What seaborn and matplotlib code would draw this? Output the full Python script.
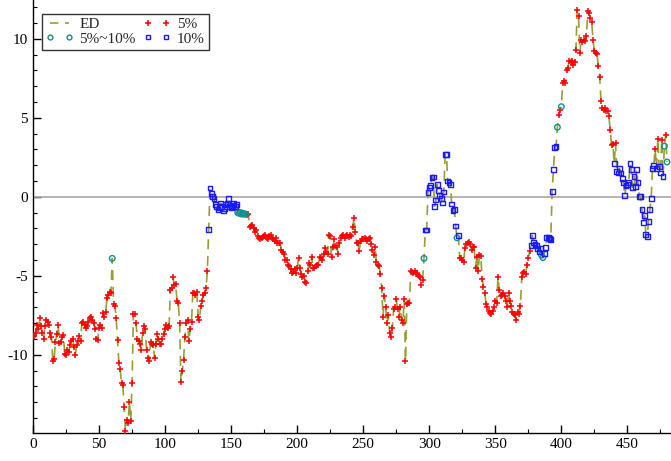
import numpy as np
import pandas as pd
import matplotlib
matplotlib.use("Agg")
import matplotlib.pyplot as plt
from matplotlib.lines import Line2D
from matplotlib.ticker import MultipleLocator
import seaborn as sns

# ED series, one value per step (x = 0 .. 480)
ed_values = [
    -8.9, -8.8, -8.6, -8.1, -8.4, -7.7, -8.2, -8.6, -9.0, -8.2,
    -7.8, -7.95, -8.1, -8.6, -8.85, -10.4, -10.25, -9.2, -8.7, -8.1,
    -9.25, -9.2, -8.9, -8.75, -9.95, -10.0, -9.7, -9.8, -9.4, -9.15,
    -9.0, -9.5, -10.0, -9.4, -9.1, -8.8, -9.1, -8.0, -7.9, -8.1,
    -8.3, -8.2, -7.9, -7.7, -7.6, -7.8, -8.0, -8.4, -9.0, -9.05,
    -8.3, -8.1, -8.3, -7.35, -7.6, -7.3, -6.4, -6.2, -6.0, -6.1,
    -3.9, -6.8, -6.9, -7.7, -9.05, -10.5, -10.9, -11.8, -11.9, -13.3,
    -14.8, -14.1, -14.3, -13.0, -14.2, -11.8, -7.4, -7.4, -8.0, -9.0,
    -9.1, -9.3, -9.7, -8.6, -8.2, -8.4, -9.7, -10.2, -10.4, -9.2,
    -9.3, -9.4, -10.2, -9.3, -8.7, -9.0, -9.3, -9.3, -9.0, -8.7,
    -8.4, -8.1, -8.3, -8.2, -5.9, -5.8, -5.1, -5.6, -5.5, -6.6,
    -6.7, -8.0, -11.75, -11.0, -10.3, -8.9, -8.0, -7.8, -9.15, -8.4,
    -7.9, -6.1, -6.1, -6.2, -6.0, -7.6, -7.8, -6.9, -6.6, -6.2,
    -6.1, -5.8, -4.7, -2.05, 0.55, 0.2, 0.0, -0.1, -0.5, -0.6,
    -0.8, -0.7, -0.4, -0.6, -0.9, -0.75, -0.5, -0.4, -0.1, -0.6,
    -0.7, -0.55, -0.45, -0.6, -0.5, -1.0, -1.05, -1.0, -1.1, -1.05,
    -1.1, -1.1, -1.15, -1.1, -1.9, -1.85, -1.8, -2.0, -2.2, -2.1,
    -2.5, -2.6, -2.65, -2.6, -2.55, -2.5, -2.45, -2.6, -2.65, -2.5,
    -2.4, -2.6, -2.7, -2.8, -2.6, -2.9, -2.9, -2.95, -3.35, -3.5,
    -3.6, -4.0, -4.0, -4.3, -4.4, -4.6, -4.8, -4.75, -4.6, -4.8,
    -4.5, -3.9, -4.5, -4.9, -5.1, -5.0, -5.4, -5.45, -4.7, -4.2,
    -4.3, -3.8, -4.5, -4.5, -4.4, -4.3, -4.3, -3.8, -3.9, -4.0,
    -3.6, -3.25, -3.5, -3.6, -2.4, -2.5, -3.8, -3.2, -2.7, -3.1,
    -3.2, -3.6, -2.9, -2.6, -2.5, -2.45, -2.6, -2.5, -2.4, -2.55,
    -2.4, -2.5, -1.9, -1.35, -2.2, -2.95, -2.95, -3.45, -2.8, -2.7,
    -2.65, -2.6, -2.7, -2.8, -2.7, -2.6, -3.0, -3.35, -3.7, -3.2,
    -4.15, -4.3, -4.4, -4.9, -5.8, -7.6, -6.3, -7.0, -8.0, -7.5,
    -8.6, -8.9, -8.3, -7.1, -7.0, -6.5, -7.1, -7.6, -7.0, -7.8,
    -8.0, -6.5, -10.4, -6.8, -6.7, -6.7, -4.7, -4.75, -4.8, -4.7,
    -4.9, -4.8, -5.0, -5.1, -5.6, -5.25, -3.9, -2.1, -2.1, 0.25,
    0.6, 0.7, 1.2, 1.25, -0.6, -0.2, 0.8, 0.4, 0.1, -0.1,
    -0.4, 0.3, 2.65, 2.65, 1.0, 0.9, 0.8, -0.46, -0.87, -0.8,
    -1.85, -2.6, -2.45, -3.9, -3.9, -4.0, -4.15, -3.25, -3.0, -2.9,
    -2.85, -3.0, -3.35, -3.15, -3.2, -4.5, -3.8, -4.7, -3.7, -3.75,
    -5.2, -5.7, -6.1, -6.8, -7.0, -7.2, -7.35, -7.4, -7.2, -7.0,
    -6.6, -6.7, -5.1, -5.9, -6.3, -6.2, -6.1, -6.3, -6.6, -7.0,
    -6.1, -6.6, -6.9, -7.3, -7.4, -7.5, -7.8, -7.3, -7.4, -6.9,
    -5.1, -4.8, -4.75, -4.9, -4.3, -3.9, -3.45, -3.1, -2.45, -2.9,
    -3.0, -3.1, -3.3, -3.5, -3.3, -3.7, -3.85, -3.6, -3.2, -2.6,
    -2.6, -2.65, -2.7, 0.35, 1.7, 3.1, 3.2, 4.4, 5.2, 5.5,
    5.7, 7.2, 7.35, 7.2, 8.05, 8.15, 8.6, 8.5, 8.6, 8.35,
    8.5, 9.3, 11.8, 11.45, 9.1, 9.95, 9.8, 9.9, 9.85, 10.2,
    11.75, 11.6, 11.3, 11.05, 9.9, 9.2, 9.1, 9.05, 8.25, 7.6,
    6.05, 5.6, 5.5, 5.6, 5.45, 5.4, 5.1, 4.2, 3.3, 3.35,
    2.1, 3.4, 1.6, 1.5, 1.8, 1.5, 1.15, 0.9, 0.06, 0.7,
    0.75, 0.9, 2.1, 1.7, 0.6, 1.3, 0.65, 1.7, 0.9, 0.0,
    0.0, -0.8, -1.65, -1.2, -2.4, -2.5, -1.55, -0.8, -0.1, 1.8,
    2.0, 3.0, 1.8, 3.65, 1.9, 1.5, 3.6, 1.3, 3.2, 3.9,
    2.2,
]

# indices of points in the "5%~10%" and "10%" groups (all others are "5%")
mid_idx = [60, 155, 156, 157, 158, 159, 160, 161, 296, 321, 385, 386, 397, 400, 478, 480]
high_idx = (list(range(133, 155)) + list(range(297, 321)) + [322]
            + list(range(377, 385)) + list(range(387, 397)) + [440]
            + list(range(442, 471)) + [472, 474, 475, 477])

cat_labels = ["5%", "5%~10%", "10%"]

x = np.arange(len(ed_values))
cat = np.array(["5%"] * len(ed_values), dtype=object)
cat[mid_idx] = "5%~10%"
cat[high_idx] = "10%"
df = pd.DataFrame({"x": x, "ED": ed_values, "cat": cat})

sns.set_theme(style="white")
plt.rcParams["font.family"] = ["Liberation Serif", "DejaVu Serif"]
plt.rcParams["axes.unicode_minus"] = False

fig = plt.figure(figsize=(6.71, 4.61), dpi=100)
ax = fig.add_axes([33 / 671, 28 / 461, 638 / 671, 433 / 461])

ax.axhline(0, color="#a8a8a8", lw=1.2, zorder=1)

line_color = "#9c9c32"
sns.lineplot(data=df, x="x", y="ED", ax=ax, color=line_color, lw=1.2,
             dashes=False, zorder=2, legend=False)
ax.lines[-1].set_dashes([6, 4])

d5 = df[df["cat"] == "5%"]
dmid = df[df["cat"] == "5%~10%"]
dhigh = df[df["cat"] == "10%"]
sns.scatterplot(data=d5, x="x", y="ED", ax=ax, marker="+", color="#ff0000",
                s=20, linewidth=1.1, zorder=3, legend=False)
sns.scatterplot(data=dmid, x="x", y="ED", ax=ax, marker="o", s=16,
                facecolors="none", edgecolors="#109090", linewidth=1.0,
                zorder=4, legend=False)
sns.scatterplot(data=dhigh, x="x", y="ED", ax=ax, marker="s", s=12,
                facecolors="none", edgecolors="#1a1aff", linewidth=1.0,
                zorder=4, legend=False)

ax.set_xlim(0, 483)
ax.set_ylim(-14.95, 12.45)
ax.set_xlabel("")
ax.set_ylabel("")

ax.xaxis.set_major_locator(MultipleLocator(50))
ax.xaxis.set_minor_locator(MultipleLocator(25))
ax.yaxis.set_major_locator(MultipleLocator(5))
ax.yaxis.set_minor_locator(MultipleLocator(1))
ax.tick_params(axis="both", which="both", direction="in", labelsize=11,
               colors="black", left=True, bottom=True)
ax.tick_params(which="major", length=6, width=1)
ax.tick_params(which="minor", length=3, width=0.8)

for s in ["top", "right"]:
    ax.spines[s].set_visible(False)
for s in ["left", "bottom"]:
    ax.spines[s].set_color("black")
    ax.spines[s].set_linewidth(1.0)

handles = [
    Line2D([], [], color=line_color, lw=1.2, dashes=[5, 4]),
    Line2D([], [], ls="none", marker="o", mfc="none", mec="#109090", ms=3.5, mew=1),
    Line2D([], [], ls="none", marker="+", color="#ff0000", ms=4.5, mew=1.1),
    Line2D([], [], ls="none", marker="s", mfc="none", mec="#1a1aff", ms=3, mew=1),
]
labels = ["ED", cat_labels[1], cat_labels[0], cat_labels[2]]
leg = ax.legend(handles, labels, ncol=2, loc="upper left",
                bbox_to_anchor=(0.014, 0.968), numpoints=2, fontsize=11,
                frameon=True, fancybox=False, edgecolor="black",
                borderpad=0.25, handlelength=1.8, handletextpad=0.4,
                columnspacing=0.5, labelspacing=0.05, borderaxespad=0)
leg.get_frame().set_linewidth(1.0)

fig.savefig("out.png", dpi=100)
